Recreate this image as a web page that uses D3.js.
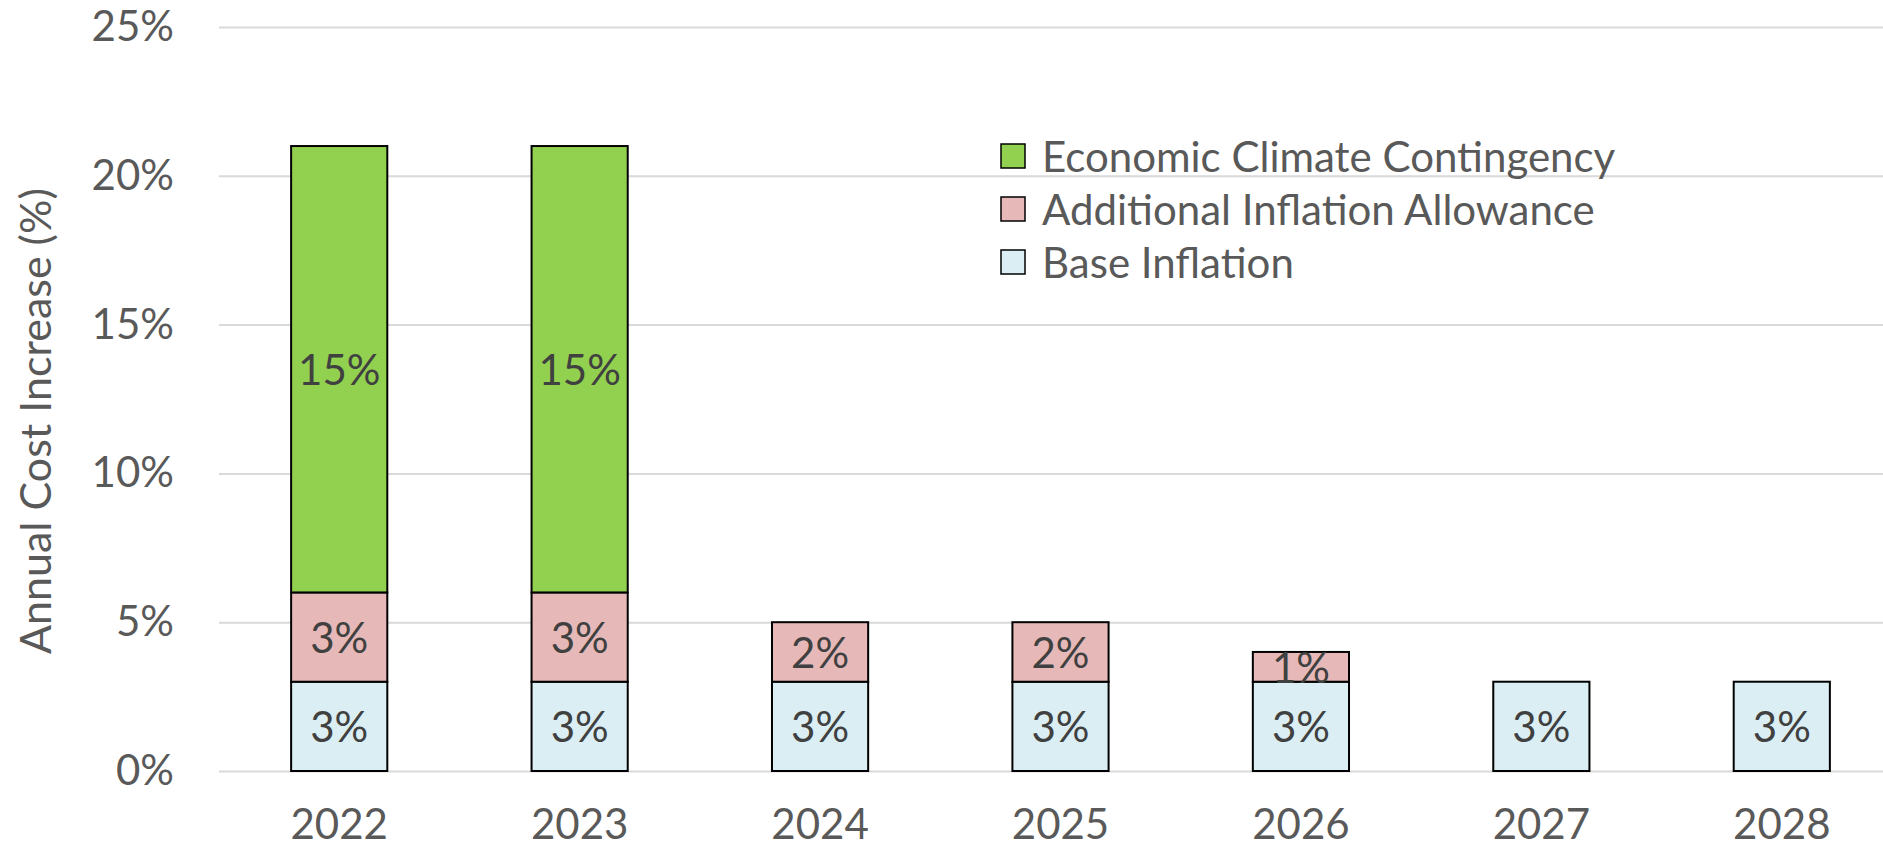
<!DOCTYPE html>
<html>
<head>
<meta charset="utf-8">
<script src="https://cdn.jsdelivr.net/npm/d3@7"></script>
<style>
  html, body { margin: 0; padding: 0; background: #fff; }
  svg text { font-family: Lato, "Open Sans", sans-serif; }
</style>
</head>
<body>
<div id="chart"></div>
<script>
// chart data
const years = ['2022', '2023', '2024', '2025', '2026', '2027', '2028'];
const baseInflation = [3, 3, 3, 3, 3, 3, 3];
const additionalAllowance = [3, 3, 2, 2, 1, 0, 0];
const climateContingency = [15, 15, 0, 0, 0, 0, 0];
const yTicks = [0, 5, 10, 15, 20, 25];

const seriesNames = ['Base Inflation', 'Additional Inflation Allowance', 'Economic Climate Contingency'];
const seriesColors = ['#DAEEF3', '#E6B8B7', '#92D050'];

const width = 1883, height = 853;
const margin = { left: 219, right: -19, top: 27, bottom: 82 };
const fontSize = 42;

const svg = d3.select('#chart').append('svg')
    .attr('width', width)
    .attr('height', height);

const x = d3.scaleBand()
    .domain(years)
    .range([margin.left, width - margin.right])
    .paddingInner(0.6)
    .paddingOuter(0.3);

const y = d3.scaleLinear()
    .domain([0, 25])
    .range([height - margin.bottom, margin.top]);

// gridlines + y labels
const yAxis = svg.append('g')
    .attr('transform', `translate(${margin.left},0)`)
    .call(d3.axisLeft(y).tickValues(yTicks).tickFormat(d => d + '%').tickSize(-(width - margin.left)).tickPadding(45));
yAxis.select('.domain').remove();
yAxis.selectAll('.tick line').attr('stroke', '#D9D9D9').attr('stroke-width', 2);
yAxis.selectAll('.tick text').attr('fill', '#595959').style('font-size', fontSize + 'px');

// x labels
const xAxis = svg.append('g')
    .attr('transform', `translate(0,${height - margin.bottom})`)
    .call(d3.axisBottom(x).tickSize(0).tickPadding(38));
xAxis.select('.domain').remove();
xAxis.selectAll('.tick text').attr('fill', '#595959').style('font-size', fontSize + 'px');

// y axis title (sits a little below the plot centre, like the original)
svg.append('text')
    .attr('transform', `translate(40,${(y(0) + y(25)) / 2 + 22}) rotate(-90)`)
    .attr('text-anchor', 'middle')
    .attr('dominant-baseline', 'middle')
    .attr('fill', '#595959')
    .style('font-size', (fontSize + 1) + 'px')
    .text('Annual Cost Increase (%)');

// stacked bars
const rows = years.map((yr, i) => ({
    year: yr,
    'Base Inflation': baseInflation[i],
    'Additional Inflation Allowance': additionalAllowance[i],
    'Economic Climate Contingency': climateContingency[i]
}));
const stacked = d3.stack().keys(seriesNames)(rows);

const layer = svg.selectAll('.layer')
    .data(stacked)
    .enter().append('g')
    .attr('class', 'layer')
    .attr('fill', (d, i) => seriesColors[i]);

layer.selectAll('rect')
    .data(d => d.filter(s => s[1] - s[0] > 0))
    .enter().append('rect')
    .attr('x', d => x(d.data.year))
    .attr('width', x.bandwidth())
    .attr('y', d => y(d[1]))
    .attr('height', d => y(d[0]) - y(d[1]))
    .attr('stroke', '#000')
    .attr('stroke-width', 2);

layer.selectAll('text')
    .data(d => d.filter(s => s[1] - s[0] > 0))
    .enter().append('text')
    .attr('x', d => x(d.data.year) + x.bandwidth() / 2)
    .attr('y', d => (y(d[0]) + y(d[1])) / 2)
    .attr('text-anchor', 'middle')
    .attr('dominant-baseline', 'central')
    .attr('fill', '#404040')
    .style('font-size', fontSize + 'px')
    .text(d => (d[1] - d[0]) + '%');

// legend
const legendItems = seriesNames.slice().reverse().map((n, i) => ({ name: n, color: seriesColors[2 - i] }));
const legend = svg.append('g').attr('transform', 'translate(1001,156)');
const item = legend.selectAll('g')
    .data(legendItems)
    .enter().append('g')
    .attr('transform', (d, i) => `translate(0,${i * 53})`);
item.append('rect')
    .attr('x', 0).attr('y', -12)
    .attr('width', 24).attr('height', 24)
    .attr('fill', d => d.color)
    .attr('stroke', '#000')
    .attr('stroke-width', 1.5);
item.append('text')
    .attr('x', 41)
    .attr('y', 0)
    .attr('dominant-baseline', 'central')
    .attr('fill', '#595959')
    .style('font-size', fontSize + 'px')
    .text(d => d.name);
</script>
</body>
</html>
